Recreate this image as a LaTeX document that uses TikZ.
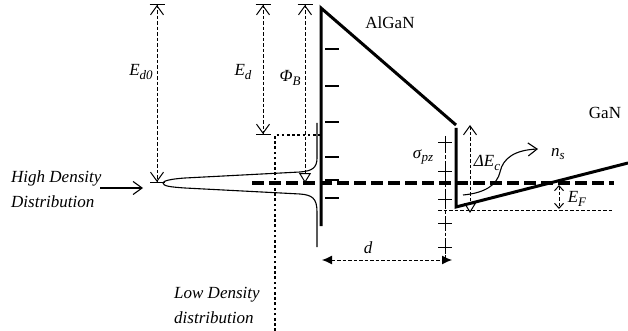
\documentclass[tikz,border=0pt]{standalone}
\usepackage{fontspec}
\setmainfont{Liberation Serif}
\usetikzlibrary{positioning, arrows.meta}
\newcommand\lsub[1]{\raisebox{-3.5pt}{\fontsize{13}{13}\selectfont\itshape #1}}
\tikzset{
  band/.style={line width=3pt},
  thinline/.style={line width=1.1pt},
  dimline/.style={line width=1pt, dash pattern=on 3.5pt off 2pt},
  fermi/.style={line width=3.2pt, dash pattern=on 12pt off 5pt},
  lowdos/.style={line width=2.8pt, dash pattern=on 2.6pt off 2.6pt},
  lbl/.style={font=\fontsize{17}{25}\selectfont, inner sep=0pt},
  ilbl/.style={font=\fontsize{17}{25}\selectfont\itshape, inner sep=0pt},
  barb/.tip={Straight Barb[length=9pt, width=13pt]},
  smallbarb/.tip={Straight Barb[length=5pt, width=9pt]},
  opentri/.tip={Triangle[open, length=10pt, width=12pt]},
  endbar/.tip={Bar[width=15pt]},
}

\begin{document}
\begin{tikzpicture}[x=1pt, y=-1pt]
  \useasboundingbox (0,0) rectangle (628,331);

  % --- band edges ---
  \coordinate (bTop) at (321,8);
  \coordinate (bBot) at (321,226);
  \coordinate (bEnd) at (456,125);
  \coordinate (wTop) at (456,128);
  \coordinate (wBot) at (456,207);
  \coordinate (gEnd) at (628,163);
  \draw[band] (bBot) -- (bTop) -- (bEnd);
  \draw[band] (wTop) -- (wBot) -- (gEnd);

  % --- Fermi level and well bottom ---
  \coordinate (efL) at (252,183);
  \coordinate (efR) at (614,183);
  \draw[fermi] (efL) -- (efR);
  \coordinate (wbL) at (438,210);
  \coordinate (wbR) at (612,210);
  \draw[dimline] (wbL) -- (wbR);

  % --- charges ---
  \foreach \y in {49,86,122,157,180,198}
    \draw[line width=1.2pt] (325,\y) -- (339,\y);
  \coordinate (dTop) at (445,150);
  \coordinate (dBot) at (445,260);
  \draw[dimline] (dTop) -- (dBot);
  \foreach \y in {143,171,199,223,247}
    \draw[line width=1pt] (438,\y) -- (452,\y) (445,\y-7) -- (445,\y+7);

  % --- density of states ---
  \coordinate (dosTop) at (317,123);
  \coordinate (dosPeak) at (163,183);
  \coordinate (dosBot) at (317,247);
  \draw[thinline] (dosTop) -- (317,158) .. controls (317,168) and (312,171) .. (300,172)
    -- (185,178) .. controls (170,179) and (163,181) .. (dosPeak)
    .. controls (163,186) and (170,187) .. (185,188)
    -- (300,194) .. controls (312,195) and (317,198) .. (317,212) -- (dosBot);
  \coordinate (lowB) at (275,331);
  \coordinate (lowC) at (275,135);
  \coordinate (lowR) at (321,135);
  \draw[lowdos] (lowB) -- (lowC) -- (lowR);

  % --- energy arrows ---
  \coordinate (ed0T) at (157,4);
  \coordinate (ed0B) at (157,183);
  \draw[dimline, {endbar[] barb[]}-{barb[] endbar[]}] (ed0T) -- (ed0B);
  \coordinate (edT) at (263,4);
  \coordinate (edB) at (263,135);
  \draw[dimline, {endbar[] barb[]}-{barb[] endbar[]}] (edT) -- (edB);
  \coordinate (phiT) at (305,4);
  \coordinate (phiB) at (305,183);
  \draw[dimline, {endbar[] barb[]}-{opentri[]}] (phiT) -- (phiB);
  \coordinate (decT) at (470,125);
  \coordinate (decB) at (470,213);
  \draw[dimline, {barb[]}-{opentri[]}] (decT) -- (decB);
  \coordinate (efT) at (559,185);
  \coordinate (efB) at (559,209);
  \draw[dimline, {smallbarb[]}-{smallbarb[]}] (efT) -- (efB);
  \coordinate (dL) at (322,260);
  \coordinate (dR) at (452,260);
  \draw[dimline, {Latex[length=10pt, width=9pt]}-{Latex[length=10pt, width=9pt]}] (dL) -- (dR);

  % --- pointers ---
  \coordinate (hdA) at (100,188);
  \coordinate (hdB) at (143,188);
  \draw[thinline, -{barb[]}] (hdA) -- (hdB);
  \coordinate (nsA) at (463,195);
  \coordinate (nsB) at (538,149);
  \draw[thinline, -{barb[]}] (nsA) .. controls (485,193) and (497,185) .. (500,172)
    .. controls (503,158) and (515,150) .. (nsB);

  % --- labels ---
  \node[lbl] (algan) at (390,23) {AlGaN};
  \node[lbl] (gan) at (605,113) {GaN};
  \node[lbl] (ed0) at (141,72) {\textit{E}\lsub{d0}};
  \node[lbl] (ed) at (243,72) {\textit{E}\lsub{d}};
  \node[lbl] (phib) at (290,78) {\textit{Φ}\lsub{B}};
  \node[lbl] (sigma) at (423,157) {\textit{σ}\lsub{pz}};
  \node[lbl] (dec) at (487,163) {\textit{ΔE}\lsub{c}};
  \node[lbl] (ns) at (558,154) {\textit{n}\lsub{s}};
  \node[lbl] (efl) at (577,199) {\textit{E}\lsub{F}};
  \node[ilbl] (dlbl) at (368,248) {d};
  \node[ilbl, align=left, anchor=west] (high) at (11,189) {High Density\\Distribution};
  \node[ilbl, align=left, anchor=west] (low) at (174,305) {Low Density\\distribution};
\end{tikzpicture}
\end{document}
